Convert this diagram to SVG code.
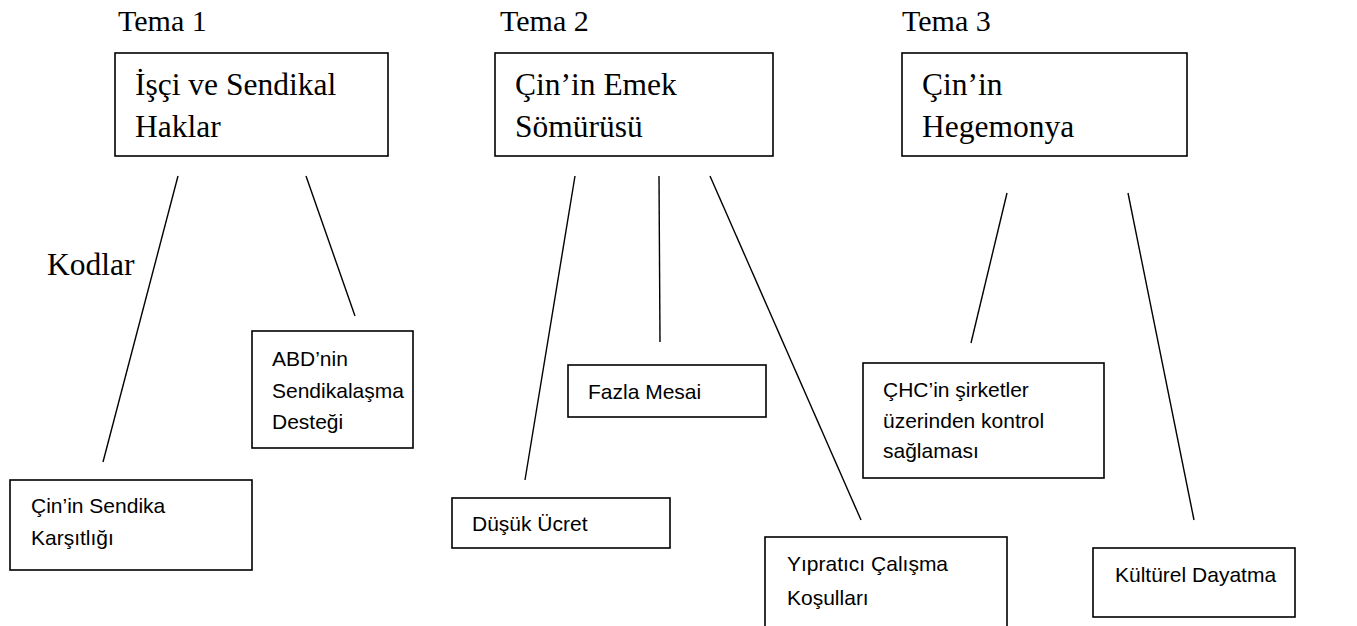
<svg xmlns="http://www.w3.org/2000/svg" width="1357" height="626" viewBox="0 0 1357 626">
<style>
.bg{fill:#fff}
.box{fill:#fff;stroke:#000;stroke-width:1.6}
.ser{font-family:"Liberation Serif","DejaVu Serif",serif;font-size:30px;fill:#000}
.big{font-size:31.5px}
.san{font-family:"Liberation Sans",Arial,sans-serif;font-size:21px;fill:#000}
.con line{stroke:#000;stroke-width:1.4}
</style>
<rect class="bg" x="0" y="0" width="1357" height="626"/>
<text class="ser" x="118" y="31">Tema 1</text>
<text class="ser" x="500" y="31">Tema 2</text>
<text class="ser" x="902" y="31">Tema 3</text>
<text class="ser big" x="47" y="275">Kodlar</text>
<g id="connectors" class="con">
<line x1="178" y1="176" x2="103" y2="462"/>
<line x1="306" y1="176" x2="355" y2="316"/>
<line x1="575" y1="176" x2="525" y2="480"/>
<line x1="659" y1="176" x2="660" y2="342"/>
<line x1="710" y1="176" x2="861" y2="520"/>
<line x1="1007" y1="193" x2="971" y2="343"/>
<line x1="1128" y1="193" x2="1194" y2="520"/>
</g>
<g id="tema1">
<rect class="box" x="115" y="53" width="273" height="103"/>
<text class="ser big" x="135" y="95">İşçi ve Sendikal</text>
<text class="ser big" x="135" y="137">Haklar</text>
</g>
<g id="tema2">
<rect class="box" x="495" y="53" width="278" height="103"/>
<text class="ser big" x="515" y="95">Çin’in Emek</text>
<text class="ser big" x="515" y="137">Sömürüsü</text>
</g>
<g id="tema3">
<rect class="box" x="902" y="53" width="285" height="103"/>
<text class="ser big" x="922" y="95">Çin’in</text>
<text class="ser big" x="922" y="137">Hegemonya</text>
</g>
<g id="abd">
<rect class="box" x="252" y="331" width="161" height="117"/>
<text class="san" x="272" y="366">ABD’nin</text>
<text class="san" x="272" y="398">Sendikalaşma</text>
<text class="san" x="272" y="429">Desteği</text>
</g>
<g id="cin-sendika">
<rect class="box" x="10" y="480" width="242" height="90"/>
<text class="san" x="31" y="513">Çin’in Sendika</text>
<text class="san" x="31" y="545">Karşıtlığı</text>
</g>
<g id="fazla-mesai">
<rect class="box" x="568" y="365" width="198" height="52"/>
<text class="san" x="588" y="399">Fazla Mesai</text>
</g>
<g id="dusuk-ucret">
<rect class="box" x="452" y="498" width="218" height="50"/>
<text class="san" x="472" y="531">Düşük Ücret</text>
</g>
<g id="yipratici">
<rect class="box" x="765" y="537" width="242" height="100"/>
<text class="san" x="787" y="571">Yıpratıcı Çalışma</text>
<text class="san" x="787" y="605">Koşulları</text>
</g>
<g id="chc">
<rect class="box" x="863" y="363" width="241" height="115"/>
<text class="san" x="883" y="397">ÇHC’in şirketler</text>
<text class="san" x="883" y="428">üzerinden kontrol</text>
<text class="san" x="883" y="458">sağlaması</text>
</g>
<g id="kulturel">
<rect class="box" x="1093" y="548" width="202" height="69"/>
<text class="san" x="1115" y="582">Kültürel Dayatma</text>
</g>
</svg>
